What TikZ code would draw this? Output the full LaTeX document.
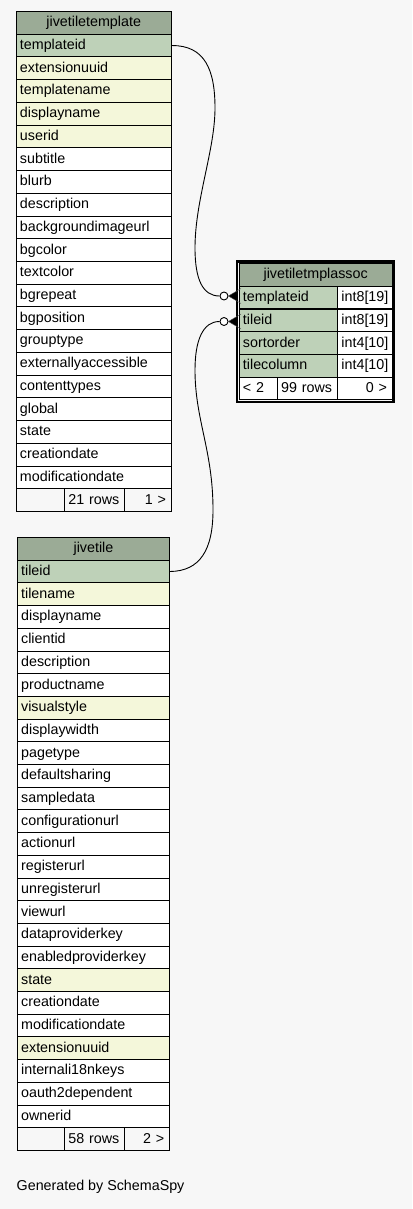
\documentclass[tikz,border=0pt]{standalone}
\usepackage{fontspec}
\setmainfont{Liberation Sans}
\definecolor{bgc}{HTML}{F7F7F7}
\definecolor{hdrc}{HTML}{9BAB96}
\definecolor{keyc}{HTML}{BED1B8}
\definecolor{idxc}{HTML}{F4F7DA}
\begin{document}
\begin{tikzpicture}[x=1pt,y=-1pt,
  cell/.style={draw=black, line width=0.9pt, rectangle, anchor=north west,
    minimum height=22.72pt, inner xsep=4pt, inner ysep=0pt,
    text height=10.6pt, text depth=2.6pt, text=black,
    font=\fontsize{14.3}{16}\selectfont},
  ttrow/.style={cell, minimum width=155.5pt, text width=147.5pt, align=left},
  jtrow/.style={cell, minimum width=152.6pt, text width=144.6pt, align=left},
  hdr/.style={fill=hdrc, align=center},
  foot/.style={cell, fill=bgc},
  edge/.style={draw=black, line width=0.9pt},
  odot/.style={circle, draw=black, line width=0.9pt, fill=white, minimum size=8pt, inner sep=0pt},
  crow/.style={fill=black}
]
\useasboundingbox (0,0) rectangle (412,1209);
\fill[bgc] (0,0) rectangle (412,1209);

% ---------- jivetiletemplate ----------
\node[ttrow, hdr] (tt0) at (15.5,11) {jivetiletemplate};
\foreach [count=\i] \t/\c in {templateid/keyc, extensionuuid/idxc, templatename/idxc,
  displayname/idxc, userid/idxc, subtitle/white, blurb/white, description/white,
  backgroundimageurl/white, bgcolor/white, textcolor/white, bgrepeat/white,
  bgposition/white, grouptype/white, externallyaccessible/white, contenttypes/white,
  global/white, state/white, creationdate/white, modificationdate/white}{
  \node[ttrow, fill=\c] (tt\i) at (15.5,{11+\i*22.727}) {\t};
}
\node[foot, minimum width=48.5pt, text width=40.5pt, align=left] (ttf1) at (15.5,488.3) {};
\node[foot, minimum width=60pt, text width=52pt, align=left] (ttf2) at (64,488.3) {21 rows};
\node[foot, minimum width=47pt, text width=36pt, inner xsep=5.5pt, align=right] (ttf3) at (124,488.3) {1 >};

% ---------- jivetile ----------
\node[jtrow, hdr] (jt0) at (16.7,537) {jivetile};
\foreach [count=\i] \t/\c in {tileid/keyc, tilename/idxc, displayname/white, clientid/white,
  description/white, productname/white, visualstyle/idxc, displaywidth/white,
  pagetype/white, defaultsharing/white, sampledata/white, configurationurl/white,
  actionurl/white, registerurl/white, unregisterurl/white, viewurl/white,
  dataproviderkey/white, enabledproviderkey/white, state/idxc, creationdate/white,
  modificationdate/white, extensionuuid/idxc, internali18nkeys/white,
  oauth2dependent/white, ownerid/white}{
  \node[jtrow, fill=\c] (jt\i) at (16.7,{537+\i*22.7}) {\t};
}
\node[foot, minimum width=47.3pt, text width=39.3pt, align=left] (jtf1) at (16.7,1127.2) {};
\node[foot, minimum width=60pt, text width=52pt, align=left] (jtf2) at (64,1127.2) {58 rows};
\node[foot, minimum width=45.3pt, text width=34.3pt, inner xsep=5.5pt, align=right] (jtf3) at (124,1127.2) {2 >};

% ---------- jivetiletmplassoc ----------
\draw[line width=2.6pt, black] (237,261.5) rectangle (393.5,402);
\node[cell, hdr, minimum width=153.5pt, text width=145.5pt] (ah) at (238.5,263) {jivetiletmplassoc};
\foreach [count=\i] \n/\ty in {templateid/int8[19], tileid/int8[19], sortorder/int4[10], tilecolumn/int4[10]}{
  \node[cell, fill=keyc, minimum width=98.5pt, text width=90.5pt, align=left] (an\i) at (238.5,{263+\i*22.75}) {\n};
  \node[cell, fill=white, minimum width=55pt, text width=47pt, align=left] (at\i) at (337,{263+\i*22.75}) {\ty};
}
\node[cell, fill=white, minimum width=38.2pt, text width=30.2pt, align=left] (af1) at (238.5,376.75) {< 2};
\node[cell, fill=white, minimum width=60.3pt, text width=52.3pt, align=left] (af2) at (276.7,376.75) {99 rows};
\node[cell, fill=white, minimum width=55pt, text width=44pt, inner xsep=5.5pt, align=right] (af3) at (337,376.75) {0 >};

% ---------- relationships ----------
\node[odot] (c1) at (224,296) {};
\node[odot] (c2) at (224,321.5) {};
\draw[edge] (tt1.east) .. controls (205,45.4) and (215,70) .. (215,108)
  .. controls (215,150) and (195,200) .. (195,248)
  .. controls (195,280) and (203,296) .. (c1.west);
\draw[edge] (jt1.east) .. controls (200,571) and (213,550) .. (213,510)
  .. controls (213,450) and (195,420) .. (195,370)
  .. controls (195,340) and (203,321.5) .. (c2.west);
\fill[crow] (c1.east) -- (237,291) -- (237,301) -- cycle;
\fill[crow] (c2.east) -- (237,316.5) -- (237,326.5) -- cycle;
\draw[line width=0.4pt, black!70] (c1.east) -- (241,288.5) (c1.east) -- (241,303.5);
\draw[line width=0.4pt, black!70] (c2.east) -- (241,314) (c2.east) -- (241,329);

% ---------- footer text ----------
\node[anchor=west, inner sep=0pt, text=black, font=\fontsize{14.3}{16}\selectfont] (gen) at (16.5,1187) {Generated by SchemaSpy};
\end{tikzpicture}
\end{document}
